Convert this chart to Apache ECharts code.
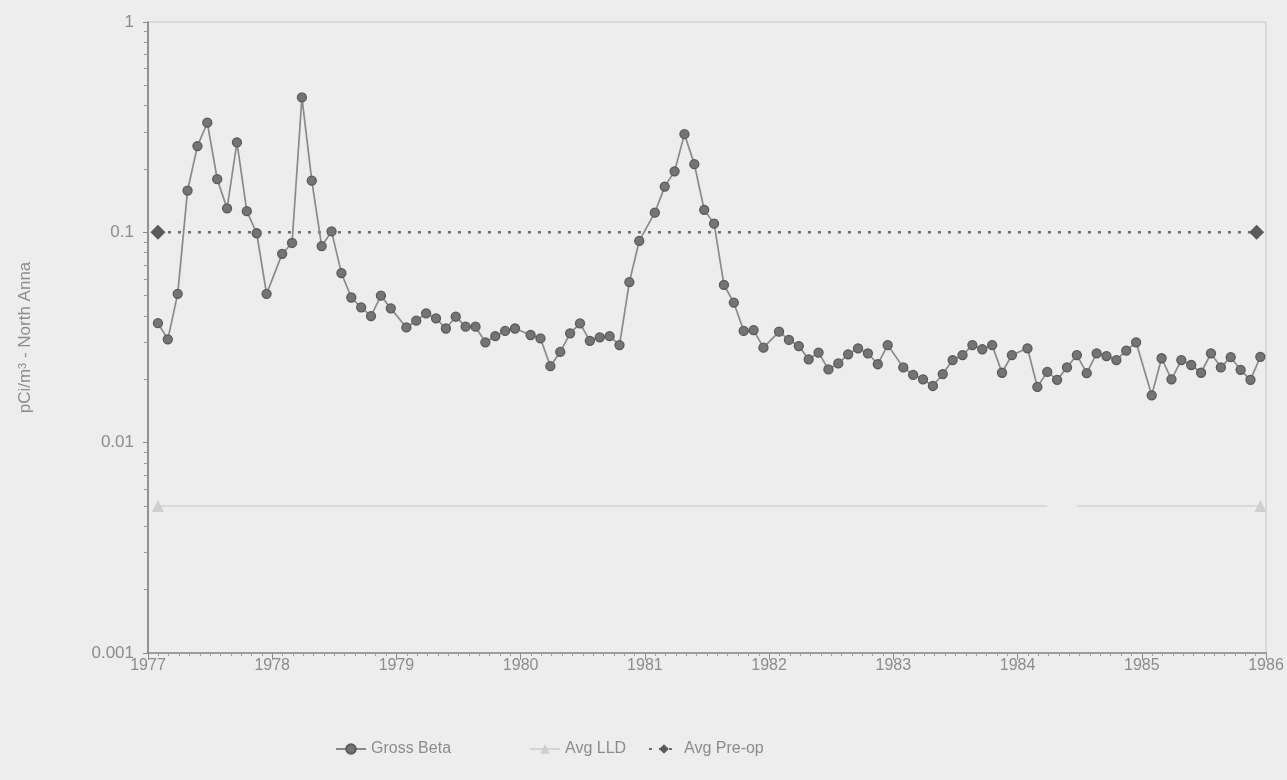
<!DOCTYPE html>
<html>
<head>
<meta charset="utf-8">
<script src="https://cdn.jsdelivr.net/npm/echarts@6/dist/echarts.min.js"></script>
<style>
  html, body { margin: 0; padding: 0; background: #ededed; }
  #chart { width: 1287px; height: 780px; }
</style>
</head>
<body>
<div id="chart"></div>
<script>
// Sampling years; one composite sample per month
const years = [1977, 1978, 1979, 1980, 1981, 1982, 1983, 1984, 1985];
const monthsPerYear = 12;

// Monthly gross beta in air (pCi/m3), Jan..Dec for each year
const grossBeta = [
  0.037, 0.031, 0.051, 0.158, 0.257, 0.332, 0.179, 0.130, 0.268, 0.126, 0.099, 0.051,   // 1977
  0.079, 0.089, 0.438, 0.176, 0.086, 0.101, 0.064, 0.049, 0.044, 0.040, 0.050, 0.0435,  // 1978
  0.0353, 0.038, 0.0412, 0.039, 0.0349, 0.0397, 0.0356, 0.0356, 0.030, 0.0321, 0.034, 0.0349, // 1979
  0.0325, 0.0313, 0.0231, 0.027, 0.0331, 0.0369, 0.0305, 0.0317, 0.0321, 0.0291, 0.058, 0.091, // 1980
  0.124, 0.165, 0.195, 0.293, 0.211, 0.128, 0.110, 0.0562, 0.0463, 0.034, 0.0343, 0.0283,  // 1981
  0.0337, 0.0308, 0.0288, 0.0249, 0.0268, 0.0223, 0.0238, 0.0263, 0.0281, 0.0266, 0.0236, 0.0291, // 1982
  0.0228, 0.0210, 0.0200, 0.0186, 0.0212, 0.0247, 0.0261, 0.0291, 0.0278, 0.0291, 0.0215, 0.0261, // 1983
  0.0281, 0.0184, 0.0217, 0.0199, 0.0228, 0.0261, 0.0214, 0.0266, 0.0258, 0.0247, 0.0274, 0.030,  // 1984
  0.0168, 0.0252, 0.0200, 0.0247, 0.0234, 0.0215, 0.0266, 0.0228, 0.0255, 0.0222, 0.0199, 0.0256  // 1985
];

// Reference levels
const avgLLD = 0.005;
const avgPreOp = 0.1;
// Months (index into the monthly series) with no LLD reported
const lldMissing = [87, 88];

// Axis tick labels
const yTickLabels = { 1: '1', 0.1: '0.1', 0.01: '0.01', 0.001: '0.001' };
const xStart = 1977, xEnd = 1986;

// Sample times in decimal years (composite collected near month end)
const sampleTimes = [];
years.forEach(y => {
  for (let m = 0; m < monthsPerYear; m++) sampleTimes.push(y + 0.08 + 0.0795 * m);
});

const betaData = sampleTimes.map((t, i) => [t, grossBeta[i]]);
const lastIdx = sampleTimes.length - 1;
const lldData = sampleTimes.map((t, i) => {
  const item = { value: [t, lldMissing.includes(i) ? null : avgLLD] };
  if (i !== 0 && i !== lastIdx) item.symbol = 'none';
  return item;
});
const preOpData = [[sampleTimes[0], avgPreOp], [sampleTimes[lastIdx] - 0.03, avgPreOp]];

const textGray = '#8c8c8c';
const sans = '"Liberation Sans", Arial, sans-serif';

const chart = echarts.init(document.getElementById('chart'), null, { renderer: 'canvas' });

function legendAt(name, left) {
  return {
    data: [name],
    left: left,
    top: 736,
    itemWidth: 30,
    itemHeight: 12,
    itemGap: 0,
    textStyle: { color: textGray, fontSize: 16, fontFamily: sans }
  };
}

chart.setOption({
  backgroundColor: '#ededed',
  animation: false,
  grid: {
    left: 148, right: 21, top: 22, bottom: 127,
    show: true, borderColor: '#c4c4c4', borderWidth: 1, backgroundColor: 'transparent'
  },
  legend: [
    legendAt('Gross Beta', 330),
    legendAt('Avg LLD', 524),
    legendAt('Avg Pre-op', 643)
  ],
  xAxis: {
    type: 'value',
    min: xStart, max: xEnd, interval: 1,
    axisLine: { show: true, lineStyle: { color: '#8a8a8a', width: 1.5 } },
    axisTick: { show: true, length: 7, lineStyle: { color: '#8a8a8a' } },
    minorTick: { show: true, splitNumber: 12, length: 3, lineStyle: { color: '#9a9a9a' } },
    splitLine: { show: false },
    axisLabel: {
      color: textGray, fontSize: 16, fontFamily: sans, margin: 5,
      formatter: v => String(v)
    }
  },
  yAxis: {
    type: 'log', logBase: 10, min: 0.001, max: 1,
    name: 'pCi/m{sup|3} - North Anna',
    nameLocation: 'middle',
    nameGap: 114,
    nameRotate: 90,
    nameTextStyle: {
      color: textGray, fontSize: 17, fontFamily: sans,
      rich: { sup: { fontSize: 11, color: textGray, verticalAlign: 'top', padding: [0, 0, 6, 0] } }
    },
    axisLine: { show: true, lineStyle: { color: '#7a7a7a', width: 1.5 } },
    axisTick: { show: true, length: 5, lineStyle: { color: '#8a8a8a' } },
    minorTick: { show: true, splitNumber: 9, length: 4, lineStyle: { color: '#9a9a9a' } },
    splitLine: { show: false },
    axisLabel: {
      color: textGray, fontSize: 17, fontFamily: sans, margin: 14,
      formatter: v => yTickLabels[+v.toPrecision(3)] || ''
    }
  },
  series: [
    {
      name: 'Gross Beta',
      type: 'line',
      data: betaData,
      symbol: 'circle',
      symbolSize: 9,
      showAllSymbol: true,
      lineStyle: { color: '#8a8a8a', width: 1.7 },
      itemStyle: { color: '#747474', borderColor: '#5a5a5a', borderWidth: 1.3 },
      z: 3
    },
    {
      name: 'Avg LLD',
      type: 'line',
      data: lldData,
      symbol: 'triangle',
      symbolSize: 12,
      showSymbol: true,
      connectNulls: false,
      lineStyle: { color: '#d4d4d4', width: 1.5 },
      itemStyle: { color: '#cfcfcf' },
      z: 2
    },
    {
      name: 'Avg Pre-op',
      type: 'line',
      data: preOpData,
      symbol: 'diamond',
      symbolSize: 15,
      lineStyle: { color: '#6e6e6e', width: 2.5, type: [3, 7] },
      itemStyle: { color: '#5a5a5a' },
      z: 2
    }
  ]
});
</script>
</body>
</html>
